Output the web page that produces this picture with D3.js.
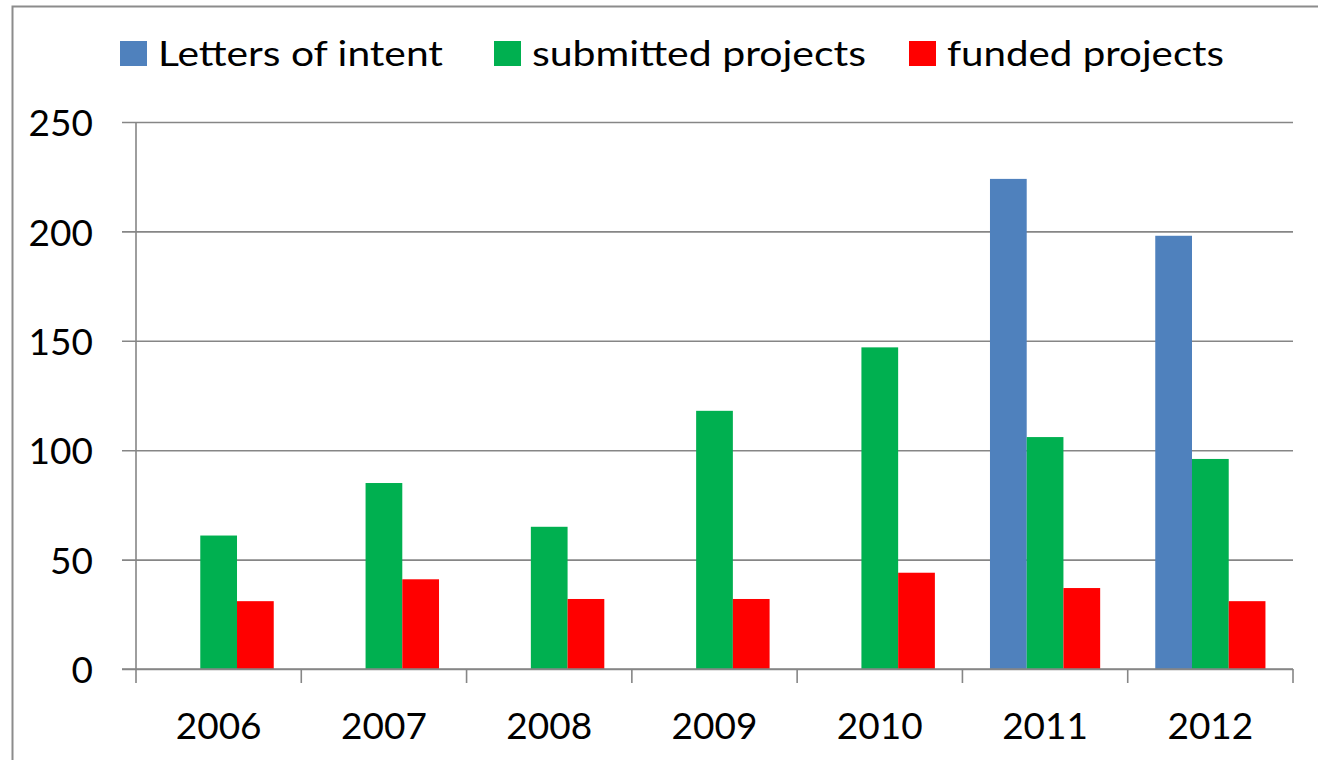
<!DOCTYPE html>
<html>
<head>
<meta charset="utf-8">
<script src="https://cdn.jsdelivr.net/npm/d3@7"></script>
<style>
  body { margin: 0; background: #fff; }
  text { font-family: Lato, "Open Sans", sans-serif; fill: #000; }
</style>
</head>
<body>
<div id="graphique"></div>
<script>
// data
const years = ['2006', '2007', '2008', '2009', '2010', '2011', '2012']
const seriesNames = ['Letters of intent', 'submitted projects', 'funded projects']
const letters = [0, 0, 0, 0, 0, 224, 198]
const submitted = [61, 85, 65, 118, 147, 106, 96]
const funded = [31, 41, 32, 32, 44, 37, 31]
const yTicks = [0, 50, 100, 150, 200, 250]

const colors = ['#4F81BD', '#00B050', '#FF0000']

let width = 1318, height = 760

// plot area
let plotLeft = 136, plotRight = 1293, plotTop = 122, plotBottom = 669

let svg = d3.select('#graphique').append('svg')
    .attr('width', width)
    .attr('height', height)

// outer chart border
svg.append('rect')
    .attr('x', 12.5).attr('y', 6.5)
    .attr('width', 1320).attr('height', 800)
    .attr('fill', 'none')
    .attr('stroke', '#8c8c8c')
    .attr('stroke-width', 2)

let x0 = d3.scaleBand().domain(years).range([plotLeft, plotRight]).padding(0)
let x1 = d3.scaleBand().domain(seriesNames).range([0, x0.bandwidth()])
    .paddingInner(0).paddingOuter(0.75)
let y = d3.scaleLinear().domain([0, 250]).range([plotBottom, plotTop])

let rows = years.map((yr, i) => ({
    year: yr,
    values: [letters[i], submitted[i], funded[i]]
}))

// y axis with gridlines
let yAxis = svg.append('g')
    .attr('transform', 'translate(122,0)')
    .call(d3.axisLeft(y).tickValues(yTicks).tickSize(-(plotRight - 122)).tickPadding(29))
yAxis.select('.domain').remove()
yAxis.selectAll('line').attr('stroke', '#868686').attr('stroke-width', 1.6)
yAxis.selectAll('text')
    .attr('font-size', 37)
    .attr('dy', '0.37em')

// bars
svg.append('g').selectAll('g')
    .data(rows)
    .enter().append('g')
    .attr('transform', d => 'translate(' + x0(d.year) + ',0)')
    .selectAll('rect')
    .data(d => d.values.map((v, k) => ({ name: seriesNames[k], value: v, k: k })))
    .enter().append('rect')
    .attr('x', d => x1(d.name))
    .attr('width', x1.bandwidth())
    .attr('y', d => y(d.value))
    .attr('height', d => plotBottom - y(d.value))
    .attr('fill', d => colors[d.k])

// x axis
let xAxis = svg.append('g')
    .attr('transform', 'translate(0,' + plotBottom + ')')
    .call(d3.axisBottom(x0).tickSize(0).tickPadding(44))
xAxis.select('.domain').remove()
xAxis.selectAll('text').attr('font-size', 37)

let bounds = years.map(d => x0(d)).concat([x0(years[years.length - 1]) + x0.bandwidth()])
xAxis.selectAll('.bound')
    .data(bounds)
    .enter().append('line')
    .attr('class', 'bound')
    .attr('x1', d => d).attr('x2', d => d)
    .attr('y1', 0).attr('y2', 14)
    .attr('stroke', '#868686')
    .attr('stroke-width', 1.6)

// zero line and vertical axis line
svg.append('line')
    .attr('x1', 122).attr('x2', plotRight)
    .attr('y1', plotBottom).attr('y2', plotBottom)
    .attr('stroke', '#868686').attr('stroke-width', 1.6)
svg.append('line')
    .attr('x1', plotLeft).attr('x2', plotLeft)
    .attr('y1', plotTop).attr('y2', plotBottom)
    .attr('stroke', '#868686').attr('stroke-width', 1.6)

// legend
let legendX = [120, 494, 909]
let legendW = [285, 334, 277]
let legend = svg.append('g').selectAll('g')
    .data(seriesNames)
    .enter().append('g')
    .attr('transform', (d, i) => 'translate(' + legendX[i] + ',41)')
legend.append('rect')
    .attr('width', 27).attr('height', 25)
    .attr('fill', (d, i) => colors[i])
legend.append('text')
    .attr('x', 38)
    .attr('y', 25)
    .attr('font-size', 35)
    .attr('textLength', (d, i) => legendW[i])
    .attr('lengthAdjust', 'spacingAndGlyphs')
    .text(d => d)
</script>
</body>
</html>
